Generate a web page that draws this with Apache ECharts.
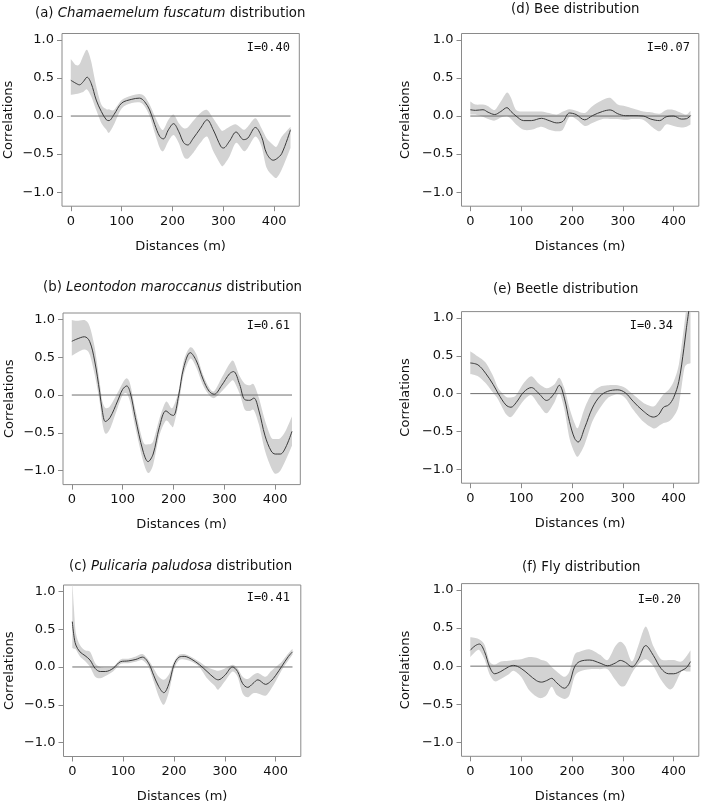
<!DOCTYPE html>
<html>
<head>
<meta charset="utf-8">
<script src="https://cdn.jsdelivr.net/npm/echarts@6/dist/echarts.min.js"></script>
<style>html,body{margin:0;padding:0;background:#fff}#c{width:704px;height:805px}</style>
</head>
<body>
<div id="c"></div>
<script>
// ---- data ----
const tickX = [0, 100, 200, 300, 400];
const tickY = [-1, -0.5, 0, 0.5, 1];

const distA = [0,10,17,25,32,40,50,60,70,75,85,100,120,135,145,155,165,175,182,192,202,212,222,230,240,255,268,280,295,300,312,325,340,348,363,375,385,398,405,415,432];
const corrA = [0.47,0.43,0.41,0.455,0.51,0.43,0.21,0.06,-0.05,-0.06,0.02,0.17,0.22,0.235,0.19,0.08,-0.11,-0.27,-0.30,-0.18,-0.10,-0.20,-0.35,-0.38,-0.30,-0.16,-0.05,-0.18,-0.40,-0.42,-0.33,-0.21,-0.31,-0.29,-0.15,-0.27,-0.49,-0.58,-0.56,-0.49,-0.18];
const upA   = [0.75,0.67,0.68,0.80,0.87,0.72,0.39,0.15,0.09,0.09,0.08,0.21,0.27,0.29,0.26,0.15,0.0,-0.14,-0.18,-0.05,0.02,-0.09,-0.16,-0.15,-0.07,0.04,0.08,-0.03,-0.18,-0.19,-0.14,-0.11,-0.18,-0.14,-0.03,-0.16,-0.29,-0.38,-0.40,-0.27,-0.14];
const loA   = [0.28,0.29,0.30,0.32,0.35,0.26,0.08,-0.09,-0.18,-0.22,-0.11,0.10,0.17,0.18,0.13,0.0,-0.22,-0.42,-0.46,-0.33,-0.25,-0.35,-0.53,-0.56,-0.49,-0.35,-0.27,-0.46,-0.64,-0.65,-0.53,-0.35,-0.46,-0.42,-0.27,-0.40,-0.68,-0.79,-0.81,-0.70,-0.42];

const distB = [0,10,25,35,45,55,60,66,75,90,100,108,115,125,140,150,160,172,185,195,200,210,220,233,245,258,270,280,295,310,318,330,340,350,358,368,380,392,400,410,420,433];
const corrB = [0.71,0.74,0.77,0.71,0.45,0.03,-0.21,-0.35,-0.30,-0.08,0.075,0.12,0.03,-0.30,-0.74,-0.88,-0.78,-0.43,-0.21,-0.26,-0.27,-0.01,0.36,0.56,0.45,0.21,0.05,0.01,0.13,0.28,0.31,0.14,-0.06,-0.07,-0.04,-0.21,-0.54,-0.74,-0.78,-0.78,-0.70,-0.48];
const upB   = [0.99,0.98,0.99,0.91,0.63,0.16,-0.08,-0.17,-0.15,0.03,0.16,0.22,0.14,-0.19,-0.61,-0.65,-0.61,-0.32,-0.09,-0.17,-0.15,0.05,0.45,0.63,0.54,0.27,0.10,0.05,0.23,0.41,0.45,0.25,0.15,0.13,0.14,-0.04,-0.34,-0.56,-0.58,-0.57,-0.48,-0.28];
const loB   = [0.52,0.56,0.60,0.54,0.27,-0.10,-0.37,-0.51,-0.45,-0.17,0.0,0.02,-0.10,-0.43,-0.87,-1.03,-0.92,-0.54,-0.34,-0.40,-0.41,-0.12,0.27,0.48,0.36,0.13,0.0,-0.04,0.05,0.16,0.19,0.02,-0.19,-0.21,-0.20,-0.39,-0.74,-0.96,-1.04,-1.00,-0.87,-0.67];

const distC = [0,3,7,15,25,35,45,55,65,80,95,110,125,138,150,160,170,180,190,200,210,220,235,250,265,280,287,300,315,325,335,345,355,365,380,390,400,412,425,433];
const corrC = [0.60,0.42,0.29,0.20,0.15,0.09,-0.02,-0.06,-0.06,-0.02,0.07,0.08,0.10,0.13,0.05,-0.11,-0.26,-0.34,-0.22,0.03,0.13,0.14,0.10,0.03,-0.06,-0.15,-0.17,-0.11,0.0,-0.06,-0.22,-0.27,-0.22,-0.17,-0.23,-0.19,-0.11,0.01,0.14,0.20];
const upC   = [1.15,0.80,0.45,0.29,0.22,0.20,0.05,0.0,-0.01,0.0,0.10,0.11,0.14,0.17,0.09,-0.02,-0.13,-0.17,-0.10,0.07,0.16,0.17,0.13,0.07,0.0,-0.04,-0.05,-0.02,0.03,-0.02,-0.13,-0.16,-0.11,-0.08,-0.13,-0.06,0.0,0.07,0.18,0.24];
const loC   = [0.25,0.24,0.23,0.14,0.08,0.0,-0.13,-0.15,-0.12,-0.06,0.04,0.05,0.07,0.09,0.0,-0.19,-0.39,-0.50,-0.33,-0.03,0.09,0.10,0.07,0.0,-0.15,-0.25,-0.30,-0.19,-0.06,-0.13,-0.35,-0.40,-0.35,-0.35,-0.38,-0.30,-0.19,-0.04,0.09,0.16];

const distD = [0,10,25,35,48,60,72,80,90,105,120,140,155,170,182,195,208,225,240,260,275,290,305,320,340,355,372,385,400,415,425,433];
const corrD = [0.083,0.075,0.083,0.05,0.02,0.06,0.11,0.06,0.0,-0.06,-0.06,-0.03,-0.06,-0.09,-0.07,0.04,0.02,-0.05,0.005,0.06,0.08,0.03,0.005,0.005,0.0,-0.04,-0.06,-0.01,0.0,-0.04,-0.035,0.005];
const upD   = [0.19,0.15,0.15,0.13,0.08,0.19,0.31,0.24,0.08,0.06,0.06,0.06,0.04,0.02,0.06,0.09,0.07,0.04,0.13,0.21,0.24,0.15,0.13,0.10,0.06,0.05,0.03,0.08,0.08,0.04,0.02,0.07];
const loD   = [0.02,0.02,-0.01,-0.04,-0.06,-0.02,0.0,-0.04,-0.11,-0.18,-0.18,-0.14,-0.18,-0.20,-0.18,-0.01,-0.04,-0.13,-0.09,-0.04,-0.04,-0.04,-0.05,-0.04,-0.05,-0.13,-0.20,-0.11,-0.13,-0.15,-0.14,-0.11];

const distE = [0,15,30,45,55,70,80,90,105,120,135,150,165,175,185,195,205,212,225,240,255,270,290,305,320,340,360,370,380,390,400,410,420,425,433];
const corrE = [0.405,0.38,0.27,0.12,0.0,-0.15,-0.18,-0.12,0.02,0.08,0.0,-0.09,0.0,0.11,-0.06,-0.37,-0.59,-0.64,-0.45,-0.19,-0.035,0.03,0.05,0.01,-0.10,-0.23,-0.31,-0.28,-0.18,-0.15,-0.05,0.16,0.60,0.87,1.25];
const upE   = [0.56,0.49,0.41,0.23,0.07,-0.04,-0.05,-0.02,0.14,0.23,0.13,0.07,0.12,0.21,0.07,-0.19,-0.39,-0.45,-0.19,0.01,0.09,0.11,0.11,0.075,-0.01,-0.12,-0.17,-0.10,-0.01,0.05,0.16,0.38,0.87,1.15,1.6];
const loE   = [0.26,0.23,0.14,0.01,-0.08,-0.27,-0.31,-0.23,-0.09,-0.02,-0.15,-0.26,-0.12,0.01,-0.21,-0.59,-0.78,-0.83,-0.67,-0.37,-0.19,-0.06,-0.01,-0.06,-0.21,-0.37,-0.46,-0.43,-0.39,-0.37,-0.30,-0.15,0.30,0.38,0.40];

const distF = [0,10,18,28,38,48,60,75,85,100,115,130,140,150,160,170,185,195,205,215,235,255,270,285,295,305,318,330,345,360,375,390,400,415,425,433];
const corrF = [0.21,0.27,0.29,0.19,-0.01,-0.10,-0.07,-0.01,0.01,-0.03,-0.11,-0.19,-0.21,-0.19,-0.16,-0.22,-0.29,-0.22,-0.01,0.06,0.08,0.04,0.005,0.04,0.075,0.05,-0.01,0.08,0.27,0.14,-0.03,-0.10,-0.10,-0.06,-0.02,0.06];
const upF   = [0.38,0.37,0.35,0.28,0.06,0.02,0.06,0.07,0.08,0.09,0.12,0.11,0.08,0.06,-0.01,-0.07,-0.14,-0.07,0.15,0.19,0.22,0.15,0.08,0.26,0.32,0.26,0.06,0.26,0.52,0.26,0.09,0.08,0.08,0.06,0.13,0.21];
const loF   = [0.12,0.19,0.21,0.09,-0.11,-0.20,-0.17,-0.11,-0.06,-0.14,-0.31,-0.40,-0.42,-0.38,-0.27,-0.38,-0.43,-0.38,-0.14,-0.07,-0.04,-0.04,-0.04,-0.18,-0.26,-0.25,-0.09,0.02,0.09,0.0,-0.18,-0.30,-0.27,-0.07,-0.07,-0.07];

const titles = [
  '(a) {i|Chamaemelum fuscatum} distribution',
  '(b) {i|Leontodon maroccanus} distribution',
  '(c) {i|Pulicaria paludosa} distribution',
  '(d) Bee distribution',
  '(e) Beetle distribution',
  '(f) Fly distribution'
];
const moranI = ['I=0.40', 'I=0.61', 'I=0.41', 'I=0.07', 'I=0.34', 'I=0.20'];

// ---- layout ----
const FONT = 'DejaVu Sans';
const panels = [
  {d: distA, c: corrA, u: upA, l: loA, left: 62,   top: 33.5,  h: 172.7, tl: 35,  tt: 7.5},
  {d: distB, c: corrB, u: upB, l: loB, left: 63,   top: 313,   h: 171.6, tl: 43,  tt: 281},
  {d: distC, c: corrC, u: upC, l: loC, left: 63.5, top: 585,   h: 171.5, tl: 69,  tt: 560.5},
  {d: distD, c: corrD, u: upD, l: loD, left: 461.5,top: 33.5,  h: 172.7, tl: 511, tt: 3},
  {d: distE, c: corrE, u: upE, l: loE, left: 461.5,top: 311.6, h: 171.6, tl: 493, tt: 283.5},
  {d: distF, c: corrF, u: upF, l: loF, left: 461.5,top: 583.6, h: 172.7, tl: 522, tt: 561.5}
];
const iPos = [[290,47.5],[290,326],[290,598],[690,48],[673,326],[681,600]];

const fmtY = v => (v < 0 ? '\u2212' : '') + Math.abs(v).toFixed(1);

// Catmull-Rom path through pixel points (rendering helper only)
function crPath(pts, start) {
  let s = start ? 'M' + pts[0][0] + ' ' + pts[0][1] : 'L' + pts[0][0] + ' ' + pts[0][1];
  for (let k = 0; k < pts.length - 1; k++) {
    const p0 = pts[Math.max(k - 1, 0)], p1 = pts[k], p2 = pts[k + 1], p3 = pts[Math.min(k + 2, pts.length - 1)];
    const t = 0.85 / 6;
    const c1x = p1[0] + (p2[0] - p0[0]) * t, c1y = p1[1] + (p2[1] - p0[1]) * t;
    const c2x = p2[0] - (p3[0] - p1[0]) * t, c2y = p2[1] - (p3[1] - p1[1]) * t;
    s += ' C' + c1x + ' ' + c1y + ' ' + c2x + ' ' + c2y + ' ' + p2[0] + ' ' + p2[1];
  }
  return s;
}

const option = {
  animation: false,
  backgroundColor: '#fff',
  title: [], grid: [], xAxis: [], yAxis: [], series: [], graphic: []
};

const SM = 0.35;
panels.forEach((p, i) => {
  option.title.push({
    text: titles[i], left: p.tl, top: p.tt, padding: 0,
    textStyle: {fontFamily: FONT, fontSize: 13.3, fontWeight: 'normal', color: '#111',
      rich: {i: {fontFamily: FONT, fontSize: 13.3, fontStyle: 'italic', color: '#111'}}}
  });
  option.grid.push({
    left: p.left, top: p.top, width: 237.3, height: p.h,
    show: true, borderColor: '#8a8a8a', borderWidth: 1, backgroundColor: 'transparent',
    containLabel: false, outerBoundsMode: 'none'
  });
  option.xAxis.push({
    type: 'value', gridIndex: i, min: -17.3, max: 449.3,
    name: 'Distances (m)', nameLocation: 'middle', nameGap: 34,
    nameTextStyle: {fontFamily: FONT, fontSize: 13, color: '#111'},
    axisLine: {show: false, onZero: false},
    axisTick: {show: true, length: 5, customValues: tickX, lineStyle: {color: '#8a8a8a'}},
    axisLabel: {customValues: tickX, margin: 9, fontFamily: FONT, fontSize: 13, color: '#111',
      formatter: v => String(v)},
    splitLine: {show: false}
  });
  option.yAxis.push({
    type: 'value', gridIndex: i, min: -1.184, max: 1.084,
    name: 'Correlations', nameLocation: 'middle', nameGap: i < 3 ? 47 : 49,
    nameTextStyle: {fontFamily: FONT, fontSize: 13, color: '#111'},
    axisLine: {show: false, onZero: false},
    axisTick: {show: true, length: 5, customValues: tickY, lineStyle: {color: '#8a8a8a'}},
    axisLabel: {customValues: tickY, margin: 8, fontFamily: FONT, fontSize: 13, color: '#111',
      formatter: fmtY},
    splitLine: {show: false}
  });
  // confidence band as one filled shape, positioned through the axes
  option.series.push({
    type: 'custom', xAxisIndex: i, yAxisIndex: i, clip: true, silent: true, z: 1,
    data: p.d.map((x, k) => [x, p.l[k], p.u[k]]),
    renderItem: function (params, api) {
      if (params.dataIndex !== 0) return null;
      const upPts = p.d.map((x, k) => api.coord([x, p.u[k]]));
      const loPts = p.d.map((x, k) => api.coord([x, p.l[k]])).reverse();
      const path = crPath(upPts, true) + ' ' + crPath(loPts, false) + ' Z';
      const cs = params.coordSys;
      return {
        type: 'path',
        shape: {pathData: path},
        style: {fill: '#d3d3d3', stroke: null},
        clipPath: {type: 'rect', shape: {x: cs.x, y: cs.y, width: cs.width, height: cs.height}}
      };
    }
  });
  option.series.push({
    type: 'line', xAxisIndex: i, yAxisIndex: i,
    data: [[0, 0], [p.d[p.d.length - 1], 0]], symbol: 'none',
    lineStyle: {color: '#6e6e6e', width: 1}, silent: true, z: 2
  });
  option.series.push({
    type: 'line', xAxisIndex: i, yAxisIndex: i,
    data: p.d.map((x, k) => [x, p.c[k]]), symbol: 'none', smooth: SM,
    lineStyle: {color: '#3a3a3a', width: 1}, silent: true, z: 3
  });
  option.graphic.push({
    type: 'text', x: iPos[i][0], y: iPos[i][1],
    style: {text: moranI[i], font: '12px "DejaVu Sans Mono"', fill: '#111',
      textAlign: 'right', textVerticalAlign: 'middle'}
  });
});

const chart = echarts.init(document.getElementById('c'), null, {renderer: 'canvas'});
chart.setOption(option);
</script>
</body>
</html>
